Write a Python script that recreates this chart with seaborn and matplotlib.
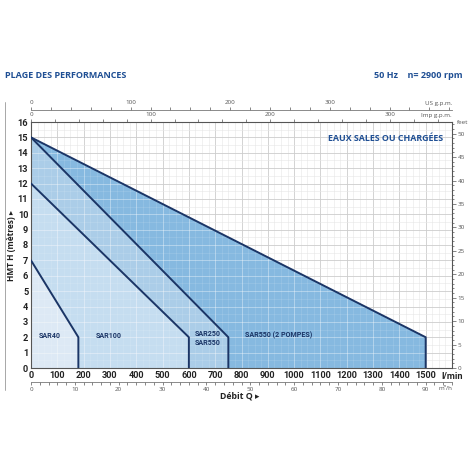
import numpy as np
import matplotlib
matplotlib.use("Agg")
import matplotlib.pyplot as plt
from matplotlib.lines import Line2D
from matplotlib.patches import Polygon
from matplotlib.ticker import MultipleLocator
import seaborn as sns

sns.set_style("white")
plt.rcParams["font.family"] = ["Open Sans", "DejaVu Sans"]

# Performance envelopes: flow (l/min) vs head (m)
sar40_q = [0, 180, 180]
sar40_h = [7, 2, 0]
sar100_q = [0, 600, 600]
sar100_h = [12, 2, 0]
sar250_q = [0, 750, 750]
sar250_h = [15, 2, 0]
sar550x2_q = [0, 1500, 1500]
sar550x2_h = [15, 2, 0]

x_ticks = list(range(0, 1501, 100))
y_ticks = list(range(0, 17))

# label positions (l/min, m)
labels = ["SAR40", "SAR100", "SAR250\nSAR550", "SAR550 (2 POMPES)"]
label_q = [72, 295, 672, 941]
label_h = [2.1, 2.1, 1.9, 2.1]

navy = "#1b3566"
title_blue = "#1f4f94"
fills = ["#86b9e0", "#abcde8", "#c5ddf0", "#dde9f5"]
curves = [(sar550x2_q, sar550x2_h), (sar250_q, sar250_h),
          (sar100_q, sar100_h), (sar40_q, sar40_h)]
narrow = ["Roboto", "DejaVu Sans"]

fig = plt.figure(figsize=(4.7, 4.7), dpi=100)
ax = fig.add_axes([31 / 470, 1 - 368 / 470, 421 / 470, 246 / 470])
ax.set_xlim(0, 1600)
ax.set_ylim(0, 16)

# grid
ax.xaxis.set_major_locator(MultipleLocator(100))
ax.xaxis.set_minor_locator(MultipleLocator(25))
ax.yaxis.set_major_locator(MultipleLocator(1))
ax.yaxis.set_minor_locator(MultipleLocator(0.5))
ax.grid(which="major", color="#cccccc", lw=0.6, zorder=0)
ax.grid(which="minor", color="#e6e6e6", lw=0.4, zorder=0)
ax.set_axisbelow(True)

outer = None
for (q, h), c in zip(curves, fills):
    poly = Polygon(list(zip([0] + q, [0] + h)), closed=True, fc=c, ec="none", zorder=1)
    ax.add_patch(poly)
    if outer is None:
        outer = poly

# lighter grid over the blue areas
vl = ax.vlines(np.arange(0, 1601, 100), 0, 16, color="white", alpha=0.35, lw=0.6, zorder=1.5)
hl = ax.hlines(np.arange(0, 16.1, 1), 0, 1600, color="white", alpha=0.35, lw=0.6, zorder=1.5)
vl2 = ax.vlines(np.arange(0, 1601, 25), 0, 16, color="white", alpha=0.18, lw=0.4, zorder=1.5)
hl2 = ax.hlines(np.arange(0, 16.1, 0.5), 0, 1600, color="white", alpha=0.18, lw=0.4, zorder=1.5)
for coll in (vl, hl, vl2, hl2):
    coll.set_clip_path(outer)

for q, h in curves:
    sns.lineplot(x=q, y=h, sort=False, estimator=None, color=navy, lw=1.4, ax=ax, zorder=3)

for t, q, h in zip(labels, label_q, label_h):
    ax.text(q, h, t, fontsize=5.1, fontweight="bold", color=navy, ha="center", va="center",
            family=narrow, zorder=4)

ax.text(1348, 14.9, "EAUX SALES OU CHARGÉES", fontsize=6.4, fontweight="bold",
        color=title_blue, ha="center", va="center", zorder=4)

# main axes ticks
ax.set_xticks(x_ticks)
ax.set_yticks(y_ticks)
ax.tick_params(axis="both", which="both", length=0, labelsize=6.6, pad=2)
for lab in ax.get_xticklabels() + ax.get_yticklabels():
    lab.set_fontweight("bold")
    lab.set_color("#222222")
    lab.set_family(narrow)
ax.text(1600, -0.25, "l/min", fontsize=6.6, fontweight="bold", color="#222222",
        ha="center", va="top", family=narrow)
for s in ax.spines.values():
    s.set_color("#555555")
    s.set_linewidth(0.8)

# secondary scales
def lmin_to_us(x):
    return x / 3.785

def us_to_lmin(x):
    return x * 3.785

def lmin_to_imp(x):
    return x / 4.546

def imp_to_lmin(x):
    return x * 4.546

def lmin_to_m3h(x):
    return x * 0.06

def m3h_to_lmin(x):
    return x / 0.06

def m_to_ft(x):
    return x * 3.281

def ft_to_m(x):
    return x / 3.281

small = dict(labelsize=4.5, labelcolor="#555555", color="#555555", pad=1)

imp = ax.secondary_xaxis("top", functions=(lmin_to_imp, imp_to_lmin))
imp.set_xticks([0, 100, 200, 300])
imp.xaxis.set_minor_locator(MultipleLocator(20))
imp.tick_params(which="major", length=2.5, width=0.5, **small)
imp.tick_params(which="minor", length=2.5, width=0.5, color="#555555")
imp.spines["top"].set_visible(False)

us = ax.secondary_xaxis(1.049, functions=(lmin_to_us, us_to_lmin))
us.set_xticks([0, 100, 200, 300])
us.xaxis.set_minor_locator(MultipleLocator(20))
us.tick_params(which="major", length=2.5, width=0.5, **small)
us.tick_params(which="minor", length=2.5, width=0.5, color="#555555")
us.spines["top"].set_color("#777777")
us.spines["top"].set_linewidth(0.6)

m3h = ax.secondary_xaxis(-0.058, functions=(lmin_to_m3h, m3h_to_lmin))
m3h.set_xticks(list(range(0, 91, 10)))
m3h.xaxis.set_minor_locator(MultipleLocator(2))
m3h.tick_params(which="major", length=2.5, width=0.5, **small)
m3h.tick_params(which="minor", length=2, width=0.5, color="#555555")
m3h.spines["bottom"].set_color("#777777")
m3h.spines["bottom"].set_linewidth(0.6)

ft = ax.secondary_yaxis("right", functions=(m_to_ft, ft_to_m))
ft.set_yticks(list(range(0, 51, 5)))
ft.yaxis.set_minor_locator(MultipleLocator(1))
ft.tick_params(which="major", length=3, width=0.5, **small)
ft.tick_params(which="minor", length=1.5, width=0.5, color="#555555")
ft.spines["right"].set_visible(False)

ax.text(1.0, 1.066, "US g.p.m.", transform=ax.transAxes, fontsize=4.5, color="#555555",
        ha="right", va="bottom")
ax.text(1.0, 1.018, "Imp g.p.m.", transform=ax.transAxes, fontsize=4.5, color="#555555",
        ha="right", va="bottom")
ax.text(1.012, 1.0, "feet", transform=ax.transAxes, fontsize=4.5, color="#555555",
        ha="left", va="center")
ax.text(1.0, -0.075, "m³/h", transform=ax.transAxes, fontsize=4.5, color="#555555",
        ha="right", va="top")

# axis titles
ax.set_xlabel("Débit Q ▸", fontsize=6.3, fontweight="bold", color="#222222")
ax.xaxis.set_label_coords(0.496, -0.095)
ax.set_ylabel("HMT H (mètres) ▸", fontsize=6.0, fontweight="bold", color="#222222")
ax.yaxis.set_label_coords(-0.036, 0.5)

fig.text(5 / 470, 1 - 75 / 470, "PLAGE DES PERFORMANCES", fontsize=6.5, fontweight="bold",
         color=title_blue, ha="left", va="center")
fig.text(462 / 470, 1 - 75 / 470, "50 Hz    n= 2900 rpm", fontsize=6.5, fontweight="bold",
         color=title_blue, ha="right", va="center")
fig.add_artist(Line2D([5 / 470, 5 / 470], [1 - 102 / 470, 1 - 390 / 470],
                      color="#999999", lw=0.6))

fig.savefig("out.png", dpi=100)
